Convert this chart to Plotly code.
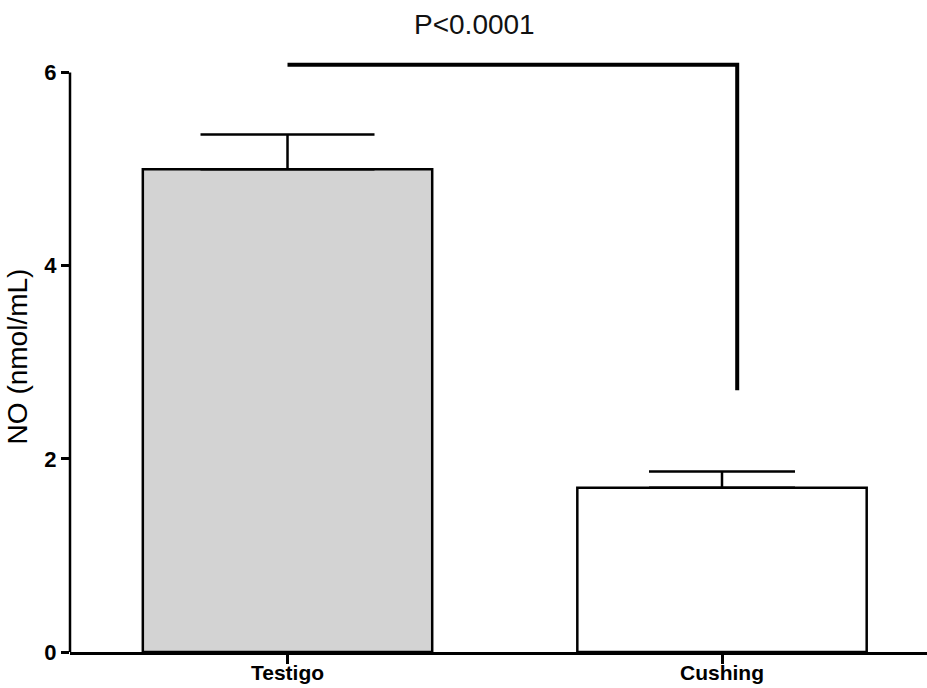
import plotly.graph_objects as go

categories = ["Testigo", "Cushing"]
means = [5.0, 1.70]
sem = [0.36, 0.17]
fills = ["#d3d3d3", "#ffffff"]
cap_halfwidths = [87, 73]

y_ticks = [0, 2, 4, 6]
y_axis_top = 6
bracket_y = 6.08
bracket_x = [0, 1.035, 1.035]
bracket_drop_to = 2.71
p_label = "P<0.0001"

FONT = "Liberation Sans, Arial, sans-serif"

fig = go.Figure()
for i, (c, m, s, f, w) in enumerate(zip(categories, means, sem, fills, cap_halfwidths)):
    fig.add_trace(go.Bar(
        x=[i], y=[m], width=0.666,
        marker=dict(color=f, line=dict(color="black", width=2.5)),
        error_y=dict(type="data", array=[s], arrayminus=[0], symmetric=False,
                     color="black", thickness=2.5, width=w),
        showlegend=False, hoverinfo="skip",
    ))

fig.add_trace(go.Scatter(
    x=bracket_x, y=[bracket_y, bracket_y, bracket_drop_to],
    mode="lines", line=dict(color="black", width=4),
    showlegend=False, hoverinfo="skip",
))

fig.add_shape(type="line", xref="paper", yref="y", x0=0, x1=0, y0=0, y1=y_axis_top,
              line=dict(color="black", width=2.5))

fig.add_annotation(text=p_label, xref="x", yref="paper", x=0.43, y=1.0, yshift=37,
                   showarrow=False, font=dict(family=FONT, size=28, color="#111"),
                   yanchor="middle")

fig.update_layout(
    width=927, height=688,
    margin=dict(l=70, r=0, t=61, b=36, autoexpand=False),
    plot_bgcolor="white", paper_bgcolor="white",
    barmode="overlay",
    font=dict(family=FONT, color="black"),
    xaxis=dict(range=[-0.5006, 1.4718], tickvals=[0, 1], ticktext=categories,
               showline=True, linecolor="black", linewidth=2.5,
               ticks="outside", ticklen=9, tickwidth=2.5, tickcolor="black",
               ticklabelstandoff=-9,
               tickfont=dict(family=FONT, size=21, color="black", weight="bold"),
               showgrid=False, zeroline=False, automargin=False),
    yaxis=dict(range=[0, 6.12], tickvals=y_ticks, showline=False,
               ticks="outside", ticklen=8, tickwidth=2.5, tickcolor="black",
               tickfont=dict(family=FONT, size=22, color="black", weight="bold"),
               showgrid=False, zeroline=False, automargin=False,
               title=dict(text="NO (nmol/mL)", font=dict(family=FONT, size=28, color="black"),
                          standoff=8)),
)

fig.write_html("out.html", config={"displayModeBar": False},
               post_script="document.body.style.margin='0';")
